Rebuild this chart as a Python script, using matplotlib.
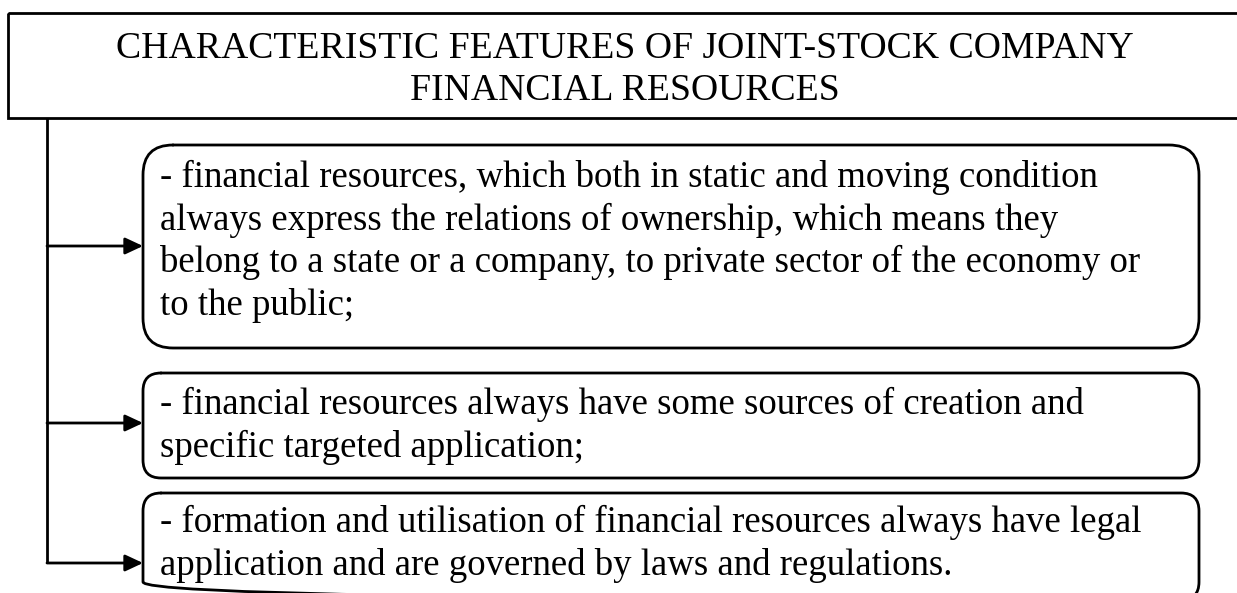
import matplotlib.pyplot as plt
from matplotlib.patches import PathPatch, Rectangle
from matplotlib.path import Path

# Texts
title_lines = ["CHARACTERISTIC FEATURES OF JOINT-STOCK COMPANY",
               "FINANCIAL RESOURCES"]
feature_texts = [
    ["- financial resources, which both in static and moving condition",
     "always express the relations of ownership, which means they",
     "belong to a state or a company, to private sector of the economy or",
     "to the public;"],
    ["- financial resources always have some sources of creation and",
     "specific targeted application;"],
    ["- formation and utilisation of financial resources always have legal",
     "application and are governed by laws and regulations."],
]

# Layout in pixels (y downwards)
W, H = 1237, 593
box_left, box_right = 143, 1199
box_tops = [145, 373, 493]
box_bottoms = [348, 478, 600]
box_radius = [30, 18, 18]
first_baseline = [187, 414, 532]
arrow_y = [246, 423, 563]
line_step = 42.7


def rounded_box(x0, y0, x1, y1, r):
    verts = [(x0 + r, y0), (x1 - r, y0), (x1, y0), (x1, y0 + r),
             (x1, y1 - r), (x1, y1), (x1 - r, y1),
             (x0 + r, y1), (x0, y1), (x0, y1 - r),
             (x0, y0 + r), (x0, y0), (x0 + r, y0)]
    codes = [Path.MOVETO, Path.LINETO, Path.CURVE3, Path.CURVE3,
             Path.LINETO, Path.CURVE3, Path.CURVE3,
             Path.LINETO, Path.CURVE3, Path.CURVE3,
             Path.LINETO, Path.CURVE3, Path.CURVE3]
    return Path(verts, codes)


plt.rcParams['font.family'] = ['Liberation Serif', 'DejaVu Serif']

fig = plt.figure(figsize=(W / 100, H / 100), dpi=100)
ax = fig.add_axes([0, 0, 1, 1])
ax.set_xlim(0, W)
ax.set_ylim(H, 0)
ax.axis('off')

# title box (runs off the right edge)
ax.add_patch(Rectangle((8, 12.5), 1260, 105.5, fill=False, lw=2, ec='black'))
for i, t in enumerate(title_lines):
    ax.text(625, 58 + i * 42, t, ha='center', va='baseline', fontsize=27.2)

# vertical connector
ax.plot([47, 47], [118, arrow_y[-1]], color='black', lw=2, solid_capstyle='butt')

for top, bot, r, base, ay, lines in zip(box_tops, box_bottoms, box_radius,
                                         first_baseline, arrow_y, feature_texts):
    ax.add_patch(PathPatch(rounded_box(box_left, top, box_right, bot, r),
                           fill=False, lw=2, ec='black', capstyle='round', joinstyle='round'))
    ax.annotate('', xy=(box_left, ay), xytext=(47, ay),
                arrowprops=dict(arrowstyle='-|>,head_length=0.9,head_width=0.42',
                                mutation_scale=12, color='black', lw=2,
                                shrinkA=0, shrinkB=0))
    for j, t in enumerate(lines):
        ax.text(160, base + j * line_step, t, ha='left', va='baseline', fontsize=26.5)

fig.savefig('out.png', dpi=100)
